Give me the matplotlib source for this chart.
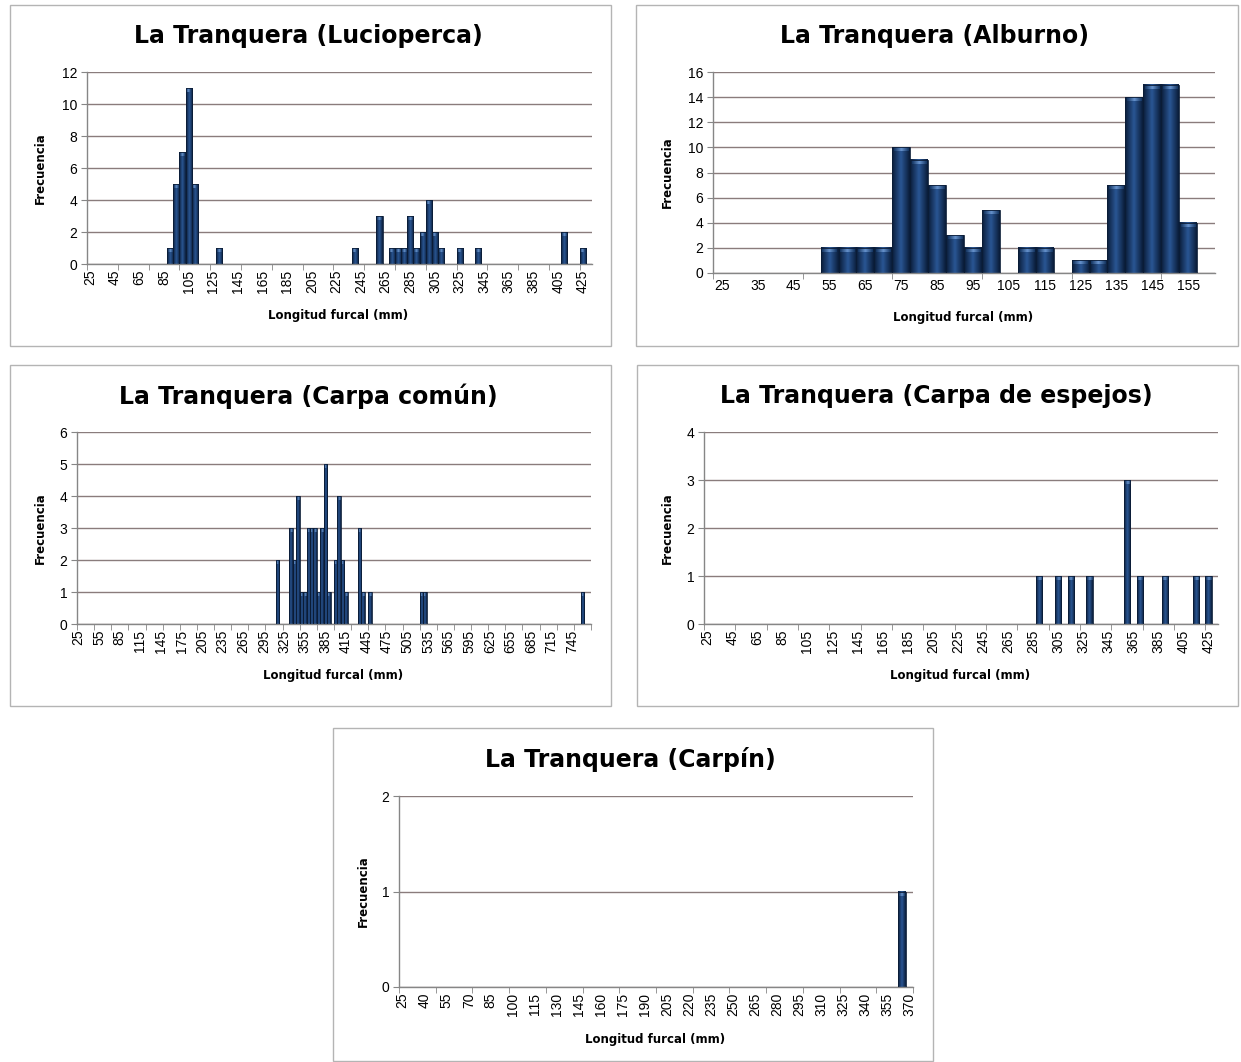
import numpy as np
import matplotlib
matplotlib.use('Agg')
import matplotlib.pyplot as plt
from matplotlib.colors import LinearSegmentedColormap
from matplotlib.patches import Rectangle

# --- data (bin start in mm -> frequency) ---
luc_bins = list(range(25, 435, 5))
luc_len = [90, 95, 100, 105, 110, 130, 240, 260, 270, 275, 280, 285, 290, 295,
           300, 305, 310, 325, 340, 410, 425]
luc_n = [1, 5, 7, 11, 5, 1, 1, 3, 1, 1, 1, 3, 1, 2, 4, 2, 1, 1, 1, 2, 1]

alb_bins = list(range(25, 165, 5))
alb_len = [55, 60, 65, 70, 75, 80, 85, 90, 95, 100, 110, 115, 125, 130, 135, 140, 145, 150, 155]
alb_n = [2, 2, 2, 2, 10, 9, 7, 3, 2, 5, 2, 2, 1, 1, 7, 14, 15, 15, 4]

carpa_bins = list(range(25, 775, 5))
carpa_len = [315, 335, 340, 345, 350, 355, 360, 365, 370, 375, 380, 385, 390, 400,
             405, 410, 415, 435, 440, 450, 525, 530, 760]
carpa_n = [2, 3, 2, 4, 1, 1, 3, 3, 3, 1, 3, 5, 1, 2, 4, 2, 1, 3, 1, 1, 1, 1, 1]

esp_bins = list(range(25, 435, 5))
esp_len = [290, 305, 315, 330, 360, 370, 390, 415, 425]
esp_n = [1, 1, 1, 1, 3, 1, 1, 1, 1]

carpin_bins = list(range(25, 375, 5))
carpin_len = [365]
carpin_n = [1]

W, H = 1241, 1062
GRID = '#8a7c7c'
AXIS = '#868686'
bar_cmap = LinearSegmentedColormap.from_list('bar', ['#0a1d3a', '#2a5694', '#0a1d3a'])
cap_cmap = LinearSegmentedColormap.from_list('cap', ['#163866', '#6e9ad4', '#163866'])


def fig_box(l, t, r, b):
    return [l / W, 1 - b / H, (r - l) / W, (b - t) / H]


def draw_panel(fig, title, bins, lens, counts, label_every, ymax, ystep,
               ax_px, frame_px, title_xy, ylab_xy, xlab_xy, rot=90):
    # chart area border
    l, t, r, b = frame_px
    fig.patches.append(Rectangle((l / W, 1 - b / H), (r - l) / W, (b - t) / H,
                                 transform=fig.transFigure, fill=False,
                                 edgecolor='#b4b4b4', linewidth=1.0))

    ax = fig.add_axes(fig_box(*ax_px))
    idx = [bins.index(v) for v in lens]
    bars = ax.bar(idx, counts, width=1.0, color='none', edgecolor='#0b1c36',
                  linewidth=0.6, zorder=3)

    # Excel-like shading: dark edges, lighter middle, light cap on top
    grad = np.linspace(0, 1, 32).reshape(1, -1)
    cap = 4.0 * ymax / (ax_px[3] - ax_px[1])   # ~4 px in data units
    for rect in bars:
        x0, w, h = rect.get_x(), rect.get_width(), rect.get_height()
        ax.imshow(grad, cmap=bar_cmap, extent=[x0, x0 + w, 0, h],
                  aspect='auto', interpolation='bilinear', zorder=2)
        ax.imshow(grad, cmap=cap_cmap, extent=[x0 + 0.1 * w, x0 + 0.9 * w, h - cap, h],
                  aspect='auto', interpolation='bilinear', zorder=2.5, alpha=0.9)

    n = len(bins)
    ax.set_xlim(-0.5, n - 0.5)
    ax.set_ylim(0, ymax)
    ax.set_yticks(np.arange(0, ymax + 0.1, ystep))
    ax.grid(axis='y', color=GRID, linewidth=1.0, zorder=0)
    ax.set_axisbelow(True)

    ax.set_xticks(range(0, n, label_every))
    ax.set_xticklabels([str(bins[i]) for i in range(0, n, label_every)],
                       rotation=rot, family='Liberation Sans', fontsize=10)
    ax.set_xticks(np.arange(0, n + 1, 5) - 0.5, minor=True)
    ax.tick_params(axis='x', which='major', length=0, pad=4)
    ax.tick_params(axis='x', which='minor', length=4, color=AXIS, direction='out')
    ax.tick_params(axis='y', length=4, color=AXIS, pad=3)
    for lab in ax.get_yticklabels():
        lab.set_family('Liberation Sans')
        lab.set_fontsize(10)

    for s in ['top', 'right']:
        ax.spines[s].set_visible(False)
    for s in ['left', 'bottom']:
        ax.spines[s].set_color(AXIS)
        ax.spines[s].set_linewidth(1.0)

    fig.text(title_xy[0] / W, 1 - title_xy[1] / H, title, ha='center', va='center',
             fontsize=17, fontweight='bold', family='DejaVu Sans')
    fig.text(ylab_xy[0] / W, 1 - ylab_xy[1] / H, 'Frecuencia', ha='center', va='center',
             rotation=90, fontsize=8.5, fontweight='bold', family='DejaVu Sans')
    fig.text(xlab_xy[0] / W, 1 - xlab_xy[1] / H, 'Longitud furcal (mm)', ha='center',
             va='center', fontsize=8.5, fontweight='bold', family='DejaVu Sans')
    return ax


fig = plt.figure(figsize=(W / 100, H / 100), dpi=100)

draw_panel(fig, 'La Tranquera (Lucioperca)', luc_bins, luc_len, luc_n, 4, 12, 2,
           (87, 72, 592, 264), (10, 5, 611, 346), (308, 36), (40, 168), (338, 316))
draw_panel(fig, 'La Tranquera (Alburno)', alb_bins, alb_len, alb_n, 2, 16, 2,
           (713, 72, 1215, 273), (636, 5, 1238, 346), (935, 36), (667, 172), (963, 317), rot=0)
draw_panel(fig, 'La Tranquera (Carpa común)', carpa_bins, carpa_len, carpa_n, 6, 6, 1,
           (77, 432, 591, 624), (10, 365, 611, 706), (308, 396), (40, 528), (333, 676))
draw_panel(fig, 'La Tranquera (Carpa de espejos)', esp_bins, esp_len, esp_n, 4, 4, 1,
           (704, 432, 1218, 624), (637, 365, 1238, 706), (936, 396), (667, 528), (960, 676))
draw_panel(fig, 'La Tranquera (Carpín)', carpin_bins, carpin_len, carpin_n, 3, 2, 1,
           (399, 796, 913, 987), (333, 728, 933, 1061), (630, 759), (363, 891), (655, 1039))

fig.savefig('out.png', dpi=100)
